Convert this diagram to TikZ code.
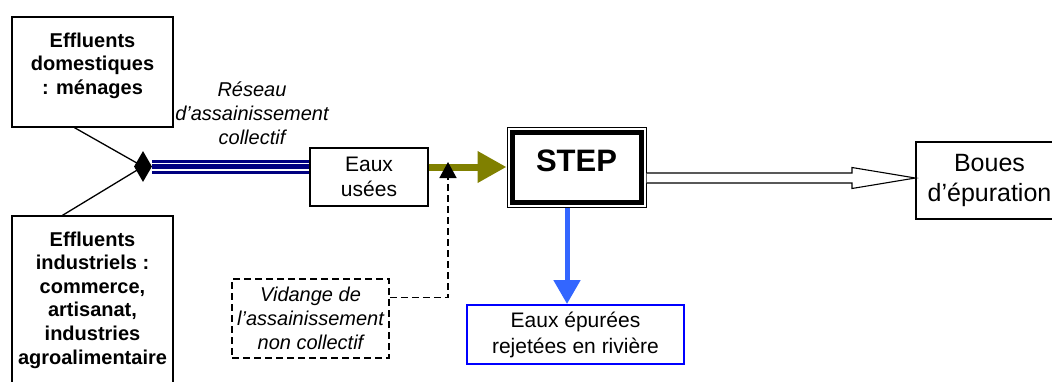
\documentclass[tikz,border=0pt]{standalone}
\usepackage{fontspec}
\setmainfont{Liberation Sans}
\usetikzlibrary{arrows.meta,shapes.geometric,calc}
\definecolor{navyline}{RGB}{0,0,128}
\definecolor{oliveflow}{RGB}{128,128,0}
\definecolor{riverblue}{RGB}{51,102,255}
\definecolor{boxblue}{RGB}{0,0,255}
\begin{document}
\begin{tikzpicture}[x=1pt,y=-1pt,
  box/.style={draw, line width=1.2pt, fill=white, inner sep=0pt, align=center},
  boldtxt/.style={font=\bfseries\fontsize{20}{23.6}\selectfont, inner sep=0pt, align=center},
  italtxt/.style={font=\itshape\fontsize{20}{23.8}\selectfont, inner sep=0pt, align=center},
  dashbox/.style={draw, line width=1.5pt, dash pattern=on 7pt off 4pt, fill=white, inner sep=0pt, align=center},
  wire/.style={line width=1.3pt},
  dashwire/.style={line width=1.5pt, dash pattern=on 7pt off 4pt},
  triple/.style={draw=navyline, line width=14pt,
    postaction={draw=white, line width=1.5pt, double=navyline, double distance=5pt}},
  hollow/.style={draw, line width=1.1pt, fill=white, line join=miter}]
\useasboundingbox (0,0) rectangle (1052,381);
\clip (0,0) rectangle (1052,381);

% sources
\node[box, minimum width=161, minimum height=110] (dom) at (92.5,72) {};
\node[boldtxt, anchor=north] (domtxt) at ($(dom.north)+(0,16)$) {Effluents\\domestiques\\: ménages};
\node[box, minimum width=161, minimum height=178] (ind) at (92.5,305) {};
\node[boldtxt, anchor=north] (indtxt) at ($(ind.north)+(0,16)$) {Effluents\\industriels :\\commerce,\\artisanat,\\industries\\agroalimentaire};

% merging point of the two sources
\coordinate (j) at (143,166.5);
\draw[wire] ($(dom.south west)+(63,0)$) -- (j);
\draw[wire] ($(ind.north west)+(51,0)$) -- (j);
\node[diamond, fill=black, inner sep=0pt, minimum width=18, minimum height=31] (junc) at (j) {};

% collective sewer network
\node[box, minimum width=118, minimum height=58, font=\fontsize{21}{25}\selectfont] (eaux) at (369,177) {Eaux\\usées};
\path[triple] (junc.east) -- (junc.east -| eaux.west);
\node[italtxt] (reseau) at (252,113) {Réseau\\d’assainissement\\collectif};

% treatment plant
\node[draw, line width=1pt, fill=white, minimum width=139, minimum height=80, inner sep=0pt,
  text depth=12pt, font=\bfseries\fontsize{31}{36}\selectfont] (step) at (576.5,167) {STEP};
\draw[line width=5pt] ($(step.north west)+(5.5,5.5)$) rectangle ($(step.south east)+(-5.5,-5.5)$);

\draw[oliveflow, line width=7pt, -{Triangle[length=29pt,width=30pt]}] (step.west -| eaux.east) -- (step.west);

% non-collective sanitation input
\node[dashbox, minimum width=157, minimum height=79, font=\itshape\fontsize{20}{24}\selectfont] (vid) at (310.5,318.5) {Vidange de\\l’assainissement\\non collectif};
\coordinate (inlet) at (448,162);
\draw[dashwire, -{Triangle[length=16pt,width=17pt]}] ($(vid.north east)!0.24!(vid.south east)$) -| (inlet);

% treated water
\node[draw=boxblue, line width=2pt, fill=white, minimum width=217, minimum height=59, inner sep=0pt,
  align=center, font=\fontsize{21}{26}\selectfont] (riv) at (575.5,334.5) {Eaux épurées\\rejetées en rivière};
\coordinate (outlet) at ($(step.south)+(-9.5,0)$);
\draw[riverblue, line width=5pt, -{Triangle[length=24pt,width=26pt]}] (outlet) -- (outlet |- riv.north);

% sludge
\node[box, minimum width=147, minimum height=77, font=\fontsize{25}{30}\selectfont] (boues) at (989.5,180.5) {Boues\\d’épuration};
\coordinate (sludgetip) at ($(boues.west)+(0,-2.5)$);
\draw[hollow] (step.east |- 0,173) -- (852,173) -- (852,167.5) -- (sludgetip)
  -- (852,188.5) -- (852,183) -- (step.east |- 0,183);
\end{tikzpicture}
\end{document}
